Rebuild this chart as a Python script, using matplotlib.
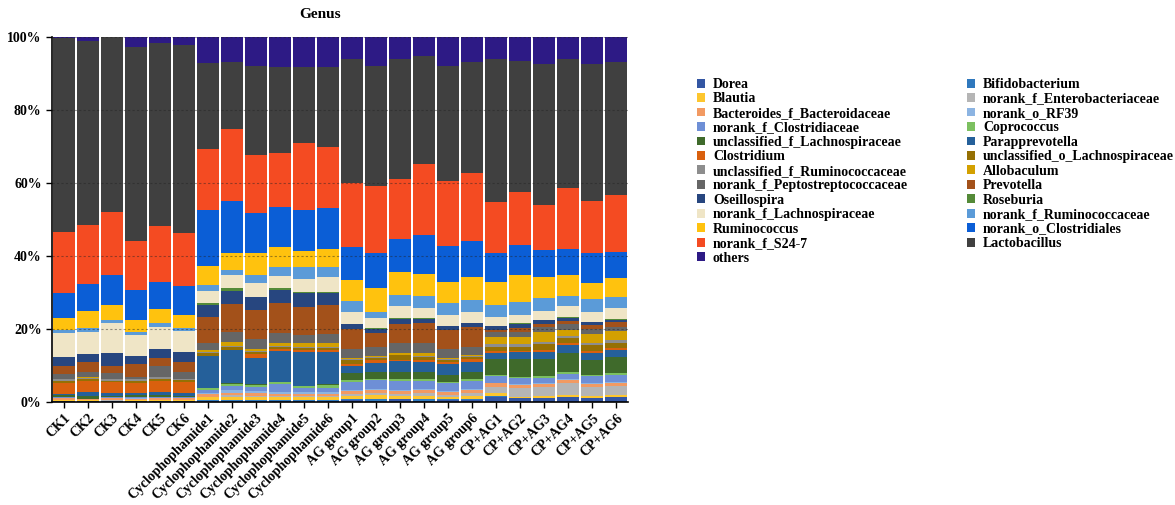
import matplotlib
matplotlib.use("Agg")
import matplotlib.pyplot as plt
from matplotlib.patches import Patch
import numpy as np

samples = ["CK1", "CK2", "CK3", "CK4", "CK5", "CK6",
           "Cyclophophamide1", "Cyclophophamide2", "Cyclophophamide3",
           "Cyclophophamide4", "Cyclophophamide5", "Cyclophophamide6",
           "AG group1", "AG group2", "AG group3", "AG group4", "AG group5", "AG group6",
           "CP+AG1", "CP+AG2", "CP+AG3", "CP+AG4", "CP+AG5", "CP+AG6"]

# relative abundance (%) per genus, stacked bottom -> top in this order
Dorea = [0.3, 0.3, 0.2, 0.3, 0.3, 0.3, 0.2, 0.3, 0.3, 0.3, 0.3, 0.3,
         0.5, 0.4, 0.8, 0.4, 0.5, 0.5, 1.4, 1.1, 1.1, 1.3, 1.2, 1.4]
Bifidobacterium = [0.1, 0.1, 0.1, 0.1, 0.1, 0.1, 0.4, 0.3, 0.3, 0.3, 0.3, 0.3,
                   0.4, 0.4, 0.1, 0.3, 0.3, 0.3, 0.2, 0.1, 0.1, 0.0, 0.0, 0.0]
Blautia = [0.1, 0.1, 0.1, 0.1, 0.1, 0.1, 0.7, 0.9, 0.8, 0.8, 0.8, 0.8,
           0.7, 1.1, 0.7, 0.9, 0.6, 0.8, 0.8, 0.1, 0.4, 0.6, 0.4, 0.5]
norank_f_Enterobacteriaceae = [0.1, 0.1, 0.1, 0.1, 0.1, 0.1, 0.2, 0.3, 0.3, 0.3, 0.3, 0.3,
                               0.6, 0.6, 0.7, 0.8, 0.6, 0.8, 1.8, 2.5, 2.6, 3.2, 2.6, 2.5]
Bacteroides_f_Bacteroidaceae = [0.4, 0.2, 0.5, 0.3, 0.4, 0.4, 0.6, 0.6, 0.7, 0.6, 0.6, 0.6,
                                0.9, 0.8, 0.8, 0.9, 0.8, 0.9, 0.9, 0.9, 0.7, 0.9, 0.7, 0.9]
norank_o_RF39 = [0.1, 0.1, 0.1, 0.2, 0.1, 0.1, 0.3, 0.9, 0.5, 0.4, 0.4, 0.4,
                 0.3, 0.3, 0.3, 0.3, 0.3, 0.3, 0.2, 0.2, 0.2, 0.2, 0.2, 0.2]
norank_f_Clostridiaceae = [0.2, 0.0, 0.2, 0.2, 0.3, 0.2, 1.0, 1.1, 1.2, 2.2, 1.1, 1.2,
                           2.1, 2.3, 2.4, 2.2, 2.1, 2.2, 1.7, 1.6, 1.6, 1.6, 1.9, 2.0]
Coprococcus = [0.1, 0.0, 0.0, 0.1, 0.1, 0.0, 0.4, 0.6, 0.5, 0.5, 0.5, 0.7,
               0.5, 0.4, 0.4, 0.4, 0.4, 0.4, 0.4, 0.4, 0.4, 0.5, 0.4, 0.4]
unclassified_f_Lachnospiraceae = [0.4, 0.7, 0.4, 0.4, 0.5, 0.4, 0.1, 0.1, 0.3, 0.2, 0.1, 0.3,
                                  1.9, 2.0, 2.1, 2.1, 1.8, 2.1, 4.3, 4.8, 4.6, 5.0, 4.1, 4.5]
Parapprevotella = [0.4, 1.2, 0.7, 0.6, 0.8, 0.7, 8.6, 9.1, 7.2, 8.3, 9.4, 8.9,
                   1.9, 2.3, 2.9, 2.7, 3.0, 2.7, 1.8, 1.9, 1.9, 2.3, 2.0, 1.8]
Clostridium = [2.9, 3.0, 3.0, 2.9, 3.0, 3.1, 0.2, 0.0, 1.0, 0.5, 0.4, 0.4,
               0.6, 0.9, 0.4, 0.5, 0.6, 0.7, 0.6, 0.5, 0.6, 0.6, 0.6, 0.5]
unclassified_o_Lachnospiraceae = [0.7, 0.5, 0.4, 0.5, 0.6, 0.5, 0.6, 1.0, 0.5, 0.6, 0.6, 0.6,
                                  1.0, 0.6, 1.2, 0.8, 0.5, 0.6, 1.1, 1.1, 1.7, 1.3, 1.4, 1.6]
unclassified_f_Ruminococcaceae = [0.4, 0.3, 0.5, 0.4, 0.4, 0.2, 0.3, 0.2, 0.3, 0.4, 0.3, 0.3,
                                  0.3, 0.2, 0.2, 0.4, 0.2, 0.3, 0.7, 0.7, 0.6, 0.6, 0.6, 0.7]
Allobaculum = [0.2, 0.2, 0.1, 0.1, 0.1, 0.1, 0.7, 1.0, 0.5, 0.7, 1.0, 1.0,
               0.3, 0.3, 0.5, 0.8, 0.3, 0.3, 2.0, 1.9, 2.8, 1.6, 2.5, 2.5]
norank_f_Peptostreptococcaceae = [1.3, 1.5, 1.5, 0.5, 3.0, 2.0, 2.0, 2.9, 2.8, 2.9, 2.3, 2.5,
                                  2.4, 2.4, 2.6, 2.6, 2.4, 2.3, 1.4, 1.5, 1.2, 1.7, 1.3, 1.1]
Prevotella = [2.3, 2.6, 2.1, 3.5, 2.1, 2.7, 6.9, 7.5, 8.0, 8.2, 7.5, 8.0,
              5.5, 4.0, 5.2, 5.5, 5.3, 5.4, 0.4, 0.9, 0.9, 0.9, 1.2, 1.2]
Oseillospira = [2.3, 2.3, 3.4, 2.3, 2.4, 2.6, 3.5, 3.7, 3.5, 3.4, 4.0, 3.3,
                1.4, 1.1, 1.5, 1.2, 1.0, 1.0, 1.0, 1.3, 1.0, 0.8, 0.8, 0.8]
Roseburia = [0.1, 0.0, 0.0, 0.0, 0.0, 0.0, 0.3, 0.6, 0.2, 0.5, 0.3, 0.3,
             0.1, 0.1, 0.1, 0.1, 0.1, 0.1, 0.1, 0.1, 0.1, 0.1, 0.1, 0.1]
norank_f_Lachnospiraceae = [6.4, 6.1, 8.2, 5.8, 6.2, 5.9, 3.5, 3.7, 3.6, 3.4, 3.4, 4.0,
                            3.3, 2.7, 3.3, 2.8, 3.0, 3.0, 2.5, 2.2, 2.5, 3.1, 2.7, 3.0]
norank_f_Ruminococcaceae = [0.9, 0.9, 0.9, 0.9, 1.0, 0.7, 1.6, 1.5, 2.3, 2.4, 3.3, 2.7,
                            3.1, 1.8, 3.2, 3.3, 3.2, 3.2, 3.3, 3.7, 3.4, 2.7, 3.4, 3.0]
Ruminococcus = [3.3, 4.8, 4.0, 3.2, 4.0, 3.6, 5.2, 4.6, 6.1, 5.5, 4.6, 4.9,
                5.6, 6.4, 6.3, 6.1, 6.0, 6.3, 6.4, 7.3, 5.8, 5.8, 4.6, 5.2]
norank_o_Clostridiales = [7.0, 7.3, 8.3, 8.2, 7.4, 8.0, 15.3, 14.3, 10.8, 11.1, 11.1, 11.3,
                          9.0, 9.8, 8.9, 10.7, 9.7, 10.0, 7.9, 8.2, 7.4, 7.0, 8.0, 7.3]
norank_f_S24_7 = [16.6, 16.2, 17.3, 13.4, 15.2, 14.4, 16.6, 19.6, 16.0, 14.6, 18.4, 16.7,
                  17.5, 18.3, 16.4, 19.4, 17.9, 18.6, 14.0, 14.4, 12.4, 16.7, 14.5, 15.5]
Lactobacillus = [53.1, 50.4, 47.8, 53.2, 50.2, 51.6, 23.6, 18.4, 24.4, 23.6, 20.7, 21.9,
                 34.2, 32.9, 33.1, 29.6, 31.5, 30.4, 39.2, 36.1, 38.6, 35.4, 37.4, 36.5]
others = [0.3, 1.1, 0.1, 2.7, 1.6, 2.2, 7.2, 6.8, 7.9, 8.3, 8.3, 8.3,
          5.9, 7.9, 5.9, 5.2, 7.9, 6.8, 5.9, 6.5, 7.4, 6.1, 7.4, 6.8]

genus_names = ["Dorea", "Bifidobacterium", "Blautia", "norank_f_Enterobacteriaceae",
               "Bacteroides_f_Bacteroidaceae", "norank_o_RF39", "norank_f_Clostridiaceae",
               "Coprococcus", "unclassified_f_Lachnospiraceae", "Parapprevotella",
               "Clostridium", "unclassified_o_Lachnospiraceae", "unclassified_f_Ruminococcaceae",
               "Allobaculum", "norank_f_Peptostreptococcaceae", "Prevotella", "Oseillospira",
               "Roseburia", "norank_f_Lachnospiraceae", "norank_f_Ruminococcaceae",
               "Ruminococcus", "norank_o_Clostridiales", "norank_f_S24-7", "Lactobacillus", "others"]
genus_values = [Dorea, Bifidobacterium, Blautia, norank_f_Enterobacteriaceae,
                Bacteroides_f_Bacteroidaceae, norank_o_RF39, norank_f_Clostridiaceae,
                Coprococcus, unclassified_f_Lachnospiraceae, Parapprevotella,
                Clostridium, unclassified_o_Lachnospiraceae, unclassified_f_Ruminococcaceae,
                Allobaculum, norank_f_Peptostreptococcaceae, Prevotella, Oseillospira,
                Roseburia, norank_f_Lachnospiraceae, norank_f_Ruminococcaceae,
                Ruminococcus, norank_o_Clostridiales, norank_f_S24_7, Lactobacillus, others]
genus_colors = ["#3356a3", "#2f78bd", "#fdc62e", "#b5b5b5",
                "#f29a62", "#8cb4e2", "#6e8fd6",
                "#7cc060", "#3f6a2b", "#25609a",
                "#d9600e", "#957004", "#8d8d8d",
                "#d3a000", "#666666", "#a3511a", "#27467f",
                "#548a38", "#efe5c6", "#5b9bd8",
                "#ffc20e", "#0b5ed6", "#f44b22", "#404040", "#2d1a85"]

plt.rcParams['font.family'] = ['Liberation Serif', 'DejaVu Serif']
plt.rcParams['font.weight'] = 'bold'

fig = plt.figure(figsize=(11.75, 5.05), dpi=100)
ax = fig.add_axes([52 / 1175, 1 - 402 / 505, (628 - 52) / 1175, (402 - 37) / 505])

data = np.array(genus_values, dtype=float)
data = data / data.sum(axis=0) * 100.0
x = np.arange(len(samples))
bottom = np.zeros(len(samples))
for vals, col in zip(data, genus_colors):
    ax.bar(x, vals, bottom=bottom, width=0.93, color=col, linewidth=0, zorder=2)
    bottom += vals

ax.set_xlim(-0.5, len(samples) - 0.5)
ax.set_ylim(0, 100)
ax.set_yticks([0, 20, 40, 60, 80, 100])
ax.set_yticklabels(["0%", "20%", "40%", "60%", "80%", "100%"], fontsize=10, fontweight='bold')
for yv in [20, 40, 60, 80, 100]:
    ax.axhline(yv, color='#222222', lw=0.8, ls=(0, (2, 2)), alpha=0.45, zorder=3)
ax.set_xticks(x)
ax.set_xticklabels(samples, rotation=45, ha='right', rotation_mode='anchor',
                   fontsize=10, fontweight='bold')
for s in ['top', 'right']:
    ax.spines[s].set_visible(False)
ax.spines['left'].set_linewidth(1.2)
ax.spines['bottom'].set_linewidth(1.2)
ax.tick_params(axis='both', direction='out', length=4, width=1.0, colors='black')
ax.tick_params(axis='x', pad=3)

fig.text(320 / 1175, 1 - 15 / 505, "Genus", ha='center', va='center',
         fontsize=11, fontweight='bold')

handles = [Patch(facecolor=c, edgecolor='none') for c in genus_colors]
left_idx = list(range(0, len(genus_names), 2))
right_idx = list(range(1, len(genus_names), 2))
common = dict(loc='upper left', frameon=False, handlelength=0.6,
              handleheight=0.6, handletextpad=0.55, labelspacing=0.105,
              borderpad=0, borderaxespad=0, prop={'weight': 'bold', 'size': 10})
leg1 = fig.legend([handles[i] for i in left_idx], [genus_names[i] for i in left_idx],
                  bbox_to_anchor=(697 / 1175, 1 - 78 / 505), **common)
leg2 = fig.legend([handles[i] for i in right_idx], [genus_names[i] for i in right_idx],
                  bbox_to_anchor=(967 / 1175, 1 - 78 / 505), **common)

fig.savefig("out.png", dpi=100)
